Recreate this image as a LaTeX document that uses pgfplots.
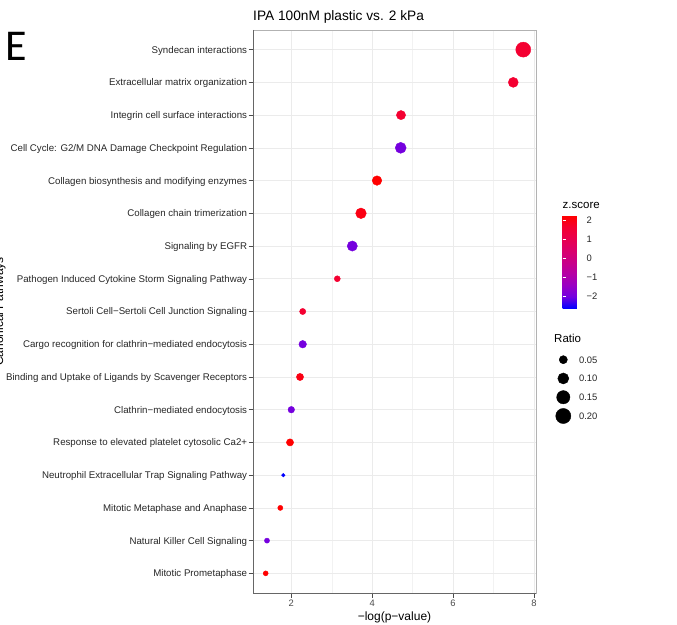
\documentclass[border=0pt]{standalone}
\usepackage{fontspec}
\setmainfont{Liberation Sans}
\newfontfamily\carlito{Carlito}
\usepackage{pgfplots}
\pgfplotsset{compat=1.18}
\usepackage{pgfplotstable}
\usetikzlibrary{calc}

\pgfplotsset{
  /pgf/number format/assume math mode=true,
  colormap={zs}{rgb255=(0,0,255) rgb255=(115,0,224) rgb255=(154,0,195) rgb255=(181,0,165) rgb255=(201,0,136) rgb255=(218,0,108) rgb255=(232,0,79) rgb255=(244,0,49) rgb255=(255,0,0)}
}

% x = -log(p-value), y = row (17 = top), z = z.score, ratio
\pgfplotstableread{
x y z ratio
7.735 17 1.633 0.195
7.488 16 1.633 0.080
4.712 15 1.633 0.066
4.705 14 -2.000 0.098
4.119 13 2.236 0.072
3.723 12 2.000 0.091
3.508 11 -2.000 0.083
3.137 10 1.633 0.024
2.282 9 1.633 0.026
2.282 8 -2.000 0.042
2.215 7 2.000 0.037
2.000 6 -2.000 0.030
1.968 5 2.236 0.037
1.802 4 -2.646 0.006
1.728 3 2.236 0.016
1.399 2 -2.000 0.016
1.367 1 2.236 0.015
}\pathways

\pgfplotstableread{
x ratio
0.5 0.05
0.5 0.10
0.5 0.15
0.5 0.20
}\ratiolegend

\begin{document}
\begin{tikzpicture}[x=1pt,y=1pt]
\useasboundingbox (0,0) rectangle (677,624);
\node[anchor=base west, inner sep=0pt, font=\carlito\fontsize{44}{44}\selectfont] at (5.5,563) {E};
\node[rotate=90, anchor=base, inner sep=0pt, font=\fontsize{12}{14}\selectfont] at (3,312.5) {Canonical Pathways};

\begin{axis}[
  at={(253pt,31pt)}, anchor=south west, scale only axis,
  width=283pt, height=563pt,
  xmin=1.053, xmax=8.05, ymin=0.4, ymax=17.6,
  xtick={2,4,6,8}, minor xtick={3,5,7},
  ytick={1,...,17},
  yticklabels={Mitotic Prometaphase,Natural Killer Cell Signaling,Mitotic Metaphase and Anaphase,Neutrophil Extracellular Trap Signaling Pathway,Response to elevated platelet cytosolic Ca2+,Clathrin−mediated endocytosis,Binding and Uptake of Ligands by Scavenger Receptors,Cargo recognition for clathrin−mediated endocytosis,Sertoli Cell−Sertoli Cell Junction Signaling,Pathogen Induced Cytokine Storm Signaling Pathway,Signaling by EGFR,Collagen chain trimerization,Collagen biosynthesis and modifying enzymes,Cell Cycle: G2/M DNA Damage Checkpoint Regulation,Integrin cell surface interactions,Extracellular matrix organization,Syndecan interactions},
  tick align=outside, tick pos=left,
  major tick length=4.5pt, minor tick length=0pt,
  tick style={black!70, line width=0.5pt},
  grid=both,
  major grid style={black!8, line width=0.55pt},
  minor grid style={black!5, line width=0.3pt},
  axis line style={black!30, line width=0.5pt},
  xticklabel style={font=\fontsize{9.4}{11}\selectfont, text=black!70, anchor=base, inner sep=0pt, yshift=-8.8pt},
  yticklabel style={font=\fontsize{9.7}{11}\selectfont, text=black!85, anchor=base east, inner sep=0pt, xshift=-1.2pt, yshift=-3.5pt},
  xlabel={−log(p−value)},
  xlabel style={at={(axis description cs:0.5,0)}, anchor=base, inner sep=0pt, yshift=-27pt, font=\fontsize{12}{14}\selectfont},
  title={IPA 100nM plastic vs. 2 kPa},
  title style={at={(axis description cs:0,1)}, anchor=base west, inner sep=0pt, yshift=3.3pt, font=\fontsize{13.7}{16}\selectfont},
  colormap name=zs, point meta min=-2.646, point meta max=2.236,
  colorbar,
  colorbar style={
    at={($(parent axis.north east)+(18pt,-185.7pt)$)}, anchor=north west,
    scale only axis, width=19pt, height=92.6pt,
    grid=none,
    ytick={-2,-1,0,1,2}, yticklabels={−2,−1,0,1,2},
    yticklabel pos=right, ytick pos=both,
    tick align=inside, major tick length=3.5pt,
    tick style={white, line width=0.6pt},
    axis line style={draw=none},
    yticklabel style={font=\fontsize{9.4}{11}\selectfont, text=black!85, anchor=base west, inner sep=0pt, xshift=5pt, yshift=-3.4pt},
    title={z.score},
    title style={at={(axis description cs:0,1)}, anchor=base west, inner sep=0pt, yshift=1.2pt, font=\fontsize{11.5}{13}\selectfont},
  },
]
\addplot[scatter, only marks, mark=*, point meta=explicit,
  scatter/use mapped color={draw=mapped color, fill=mapped color},
  mark options={line width=0.4pt},
  visualization depends on={0.6+15.6*sqrt(\thisrow{ratio}) \as \msize},
  scatter/@pre marker code/.append style={/tikz/mark size=\msize pt}]
  table[x=x, y=y, meta=z] {\pathways};
\draw[black!60, line width=0.6pt] (rel axis cs:0,1) -- (rel axis cs:0,0) -- (rel axis cs:1,0);
\end{axis}

\node[anchor=base west, inner sep=0pt, font=\fontsize{11.5}{13}\selectfont] at (554,281.7) {Ratio};
\begin{axis}[
  at={(553.3pt,208pt)}, anchor=south west, scale only axis,
  width=20pt, height=56.3pt,
  xmin=0, xmax=1, ymin=0.05, ymax=0.20, y dir=reverse,
  hide axis, clip=false,
]
\addplot[scatter, only marks, mark=*, point meta=explicit,
  scatter/use mapped color={draw=black, fill=black},
  mark options={line width=0.4pt},
  visualization depends on={0.6+15.6*sqrt(\thisrow{ratio}) \as \msize},
  scatter/@pre marker code/.append style={/tikz/mark size=\msize pt}]
  table[x=x, y=ratio, meta=ratio] {\ratiolegend};
\addplot[only marks, mark=none, point meta=explicit,
  nodes near coords={\pgfmathprintnumber[fixed, fixed zerofill, precision=2]{\pgfplotspointmeta}},
  nodes near coords style={anchor=base west, inner sep=0pt, xshift=15.6pt, yshift=-3.4pt, font=\fontsize{9.4}{11}\selectfont, text=black!85}]
  table[x=x, y=ratio, meta=ratio] {\ratiolegend};
\end{axis}
\end{tikzpicture}
\end{document}
